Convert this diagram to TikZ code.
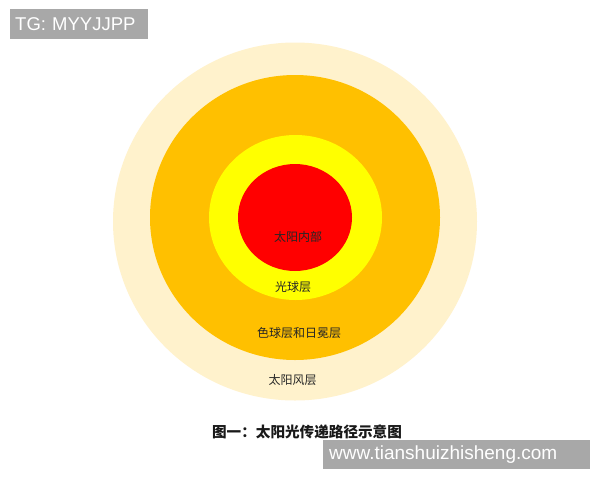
\documentclass[tikz,border=0pt]{standalone}
\usepackage{xcolor}
\usepackage{fontspec}
\setmainfont{Liberation Sans}
\newfontfamily\cjk{Noto Sans CJK SC}
\usepackage{tikz}
\usetikzlibrary{positioning}

\definecolor{viento}{HTML}{FFF2CC}
\definecolor{cromo}{HTML}{FFC000}
\definecolor{foto}{HTML}{FFFF00}
\definecolor{interior}{HTML}{FF0000}
\definecolor{marca}{HTML}{A8A8A8}

\begin{document}
\begin{tikzpicture}[x=1pt, y=-1pt]
\tikzstyle{capa}=[
    font=\cjk\fontsize{12}{12}\selectfont,
    text=black!85,
    inner sep=0pt
]
\tikzstyle{sello}=[
    fill=marca,
    text=white,
    inner sep=0pt,
    anchor=north west
]

\useasboundingbox[fill=white] (0,0) rectangle (600,480);

% Capas
\fill[viento] (295,221.5) ellipse [x radius=182, y radius=179];
\fill[cromo] (295,217.5) ellipse [x radius=145, y radius=142.5];
\fill[foto] (295.5,217.5) ellipse [x radius=86.5, y radius=82.5];
\fill[interior] (295,217.5) ellipse [x radius=57, y radius=53.5];

% Etiquetas
\node[capa] (nucleo) at (298,237) {太阳内部};
\node[capa] (fotosfera) at (293,287) {光球层};
\node[capa] (corona) at (299,333) {色球层和日冕层};
\node[capa] (viento) at (292.5,380) {太阳风层};
\node[font=\cjk\bfseries\fontsize{14.6}{14.6}\selectfont, text=black!90] (titulo) at (307,432) {图一：太阳光传递路径示意图};

% Marcas de agua
\node[sello, minimum width=138, minimum height=30, text width=138,
      font=\fontsize{18.5}{18.5}\selectfont] (tg) at (10,9)
      {\hspace*{5pt}TG: MYYJJPP};
\node[sello, minimum width=267, minimum height=29, text width=267,
      font=\fontsize{19}{19}\selectfont] (web) at (323,440)
      {\hspace*{6pt}www.tianshuizhisheng.com};

\end{tikzpicture}
\end{document}
